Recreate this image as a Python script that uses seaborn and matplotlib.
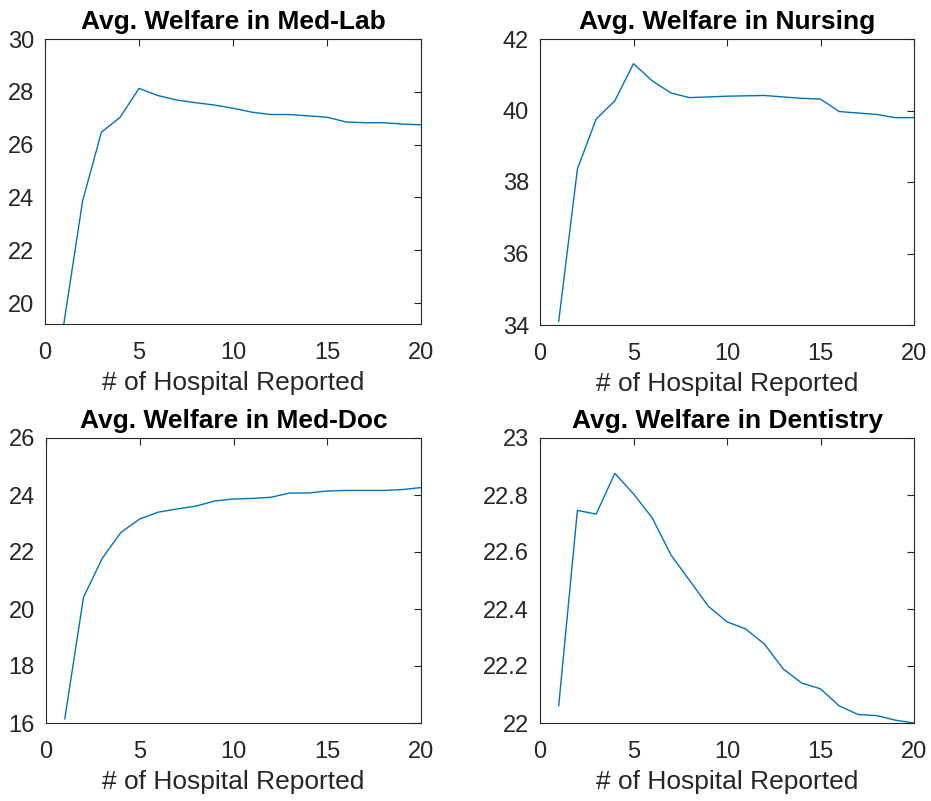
import numpy as np
import pandas as pd
import matplotlib
matplotlib.use("Agg")
import matplotlib.pyplot as plt
import seaborn as sns

hospitals = list(range(1, 21))
med_lab = [19.21, 23.87, 26.47, 27.04, 28.13, 27.86, 27.69, 27.59, 27.50, 27.38,
           27.23, 27.14, 27.14, 27.09, 27.04, 26.86, 26.83, 26.83, 26.78, 26.75]
nursing = [34.10, 38.36, 39.76, 40.27, 41.31, 40.83, 40.49, 40.36, 40.38, 40.40,
           40.41, 40.42, 40.38, 40.34, 40.32, 39.97, 39.93, 39.89, 39.80, 39.80]
med_doc = [16.14, 20.41, 21.78, 22.69, 23.16, 23.40, 23.51, 23.61, 23.79, 23.86,
           23.88, 23.92, 24.07, 24.07, 24.14, 24.16, 24.16, 24.16, 24.19, 24.26]
dentistry = [22.06, 22.746, 22.733, 22.876, 22.804, 22.72, 22.59, 22.50, 22.41, 22.355,
             22.33, 22.277, 22.19, 22.14, 22.12, 22.06, 22.03, 22.026, 22.01, 22.0]

titles = ["Avg. Welfare in Med-Lab", "Avg. Welfare in Nursing",
          "Avg. Welfare in Med-Doc", "Avg. Welfare in Dentistry"]
series = [med_lab, nursing, med_doc, dentistry]
ylims = [(19.21, 30), (34, 42), (16, 26), (22, 23)]
yticks = [[20, 22, 24, 26, 28, 30], [34, 36, 38, 40, 42],
          [16, 18, 20, 22, 24, 26], [22, 22.2, 22.4, 22.6, 22.8, 23]]
ytick_labels = [["20", "22", "24", "26", "28", "30"], ["34", "36", "38", "40", "42"],
                ["16", "18", "20", "22", "24", "26"],
                ["22", "22.2", "22.4", "22.6", "22.8", "23"]]
xticks = [0, 5, 10, 15, 20]
xlabel = "# of Hospital Reported"

sns.set_style("white")
plt.rcParams['font.family'] = ['Liberation Sans', 'DejaVu Sans']

W, H = 931, 801
fig = plt.figure(figsize=(W / 100, H / 100), dpi=100)

# axes boxes in pixels: left, top, right, bottom
boxes = [(45, 39, 421, 324), (540, 39, 914, 325),
         (46, 438, 421, 723), (540, 438, 914, 723)]

ink = "#262626"
for i, (l, t, r, b) in enumerate(boxes):
    ax = fig.add_axes([l / W, 1 - b / H, (r - l) / W, (b - t) / H])
    df = pd.DataFrame({"x": hospitals, "y": series[i]})
    sns.lineplot(data=df, x="x", y="y", ax=ax, color="#0072BD", linewidth=1.0)
    ax.set_xlim(0, 20)
    ax.set_ylim(*ylims[i])
    ax.set_xticks(xticks)
    ax.set_xticklabels([str(v) for v in xticks])
    ax.set_yticks(yticks[i])
    ax.set_yticklabels(ytick_labels[i])
    ax.set_xlabel(xlabel, fontsize=19, color=ink, labelpad=5)
    ax.set_ylabel("")
    ax.set_title(titles[i], fontsize=19, fontweight="bold", color="black", pad=7)
    ax.tick_params(axis="both", which="both", direction="in", length=5, width=0.8,
                   colors=ink, labelsize=17, top=True, right=True,
                   labelcolor=ink)
    ax.tick_params(axis="x", pad=13)
    ax.tick_params(axis="y", pad=8)
    for s in ax.spines.values():
        s.set_visible(True)
        s.set_color(ink)
        s.set_linewidth(0.8)

fig.savefig("out.png", dpi=100, facecolor="white")
